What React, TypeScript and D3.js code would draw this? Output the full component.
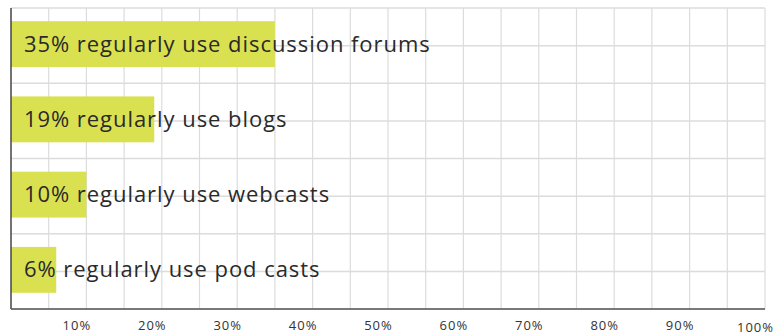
import React from "react";
import * as d3 from "d3";

const categories = ["forums", "blogs", "webcasts", "podcasts"];
const values = [35, 19, 10, 6];
const labels = [
  "35% regularly use discussion forums",
  "19% regularly use blogs",
  "10% regularly use webcasts",
  "6% regularly use pod casts",
];
const tickValues = [10, 20, 30, 40, 50, 60, 70, 80, 90, 100];
const tickLabels = ["10%", "20%", "30%", "40%", "50%", "60%", "70%", "80%", "90%", "100%"];

const W = 776;
const H = 334;
const left = 11;
const right = 765;
const top = 8;
const bottom = 309;

export default function App() {
  const x = d3.scaleLinear().domain([0, 100]).range([left, right]);
  const y = d3.scaleBand<string>().domain(categories).range([top, bottom]);
  const bw = y.bandwidth();
  const hGrid = d3.scaleLinear().domain([0, categories.length * 2]).range([top, bottom]);
  const hLines = d3.range(0, categories.length * 2 + 1);
  const vLines = d3.range(5, 101, 5);
  const font = "'Open Sans', 'Noto Sans', sans-serif";

  return (
    <div style={{ position: "absolute", left: 0, top: 0 }}>
      <svg width={W} height={H} style={{ display: "block", background: "#fff" }}>
        {vLines.map((v) => (
          <line key={"v" + v} x1={x(v)} x2={x(v)} y1={top} y2={bottom} stroke="#dcdcdc" strokeWidth={1.2} />
        ))}
        {hLines.map((k) => (
          <line key={"h" + k} x1={left} x2={right} y1={hGrid(k)} y2={hGrid(k)} stroke="#dcdcdc" strokeWidth={1.5} />
        ))}
        {categories.map((c, i) => (
          <rect
            key={"b" + c}
            x={x(0)}
            y={(y(c) as number) + bw * 0.175}
            width={x(values[i]) - x(0)}
            height={bw * 0.61}
            fill="#dae150"
          />
        ))}
        {categories.map((c, i) => (
          <text
            key={"t" + c}
            x={x(0) + 13}
            y={(y(c) as number) + bw * 0.175 + bw * 0.305 + 7.5}
            fontFamily={font}
            fontSize={22}
            letterSpacing={0.95}
            fill="#2a2a2a"
          >
            {labels[i]}
          </text>
        ))}
        <line x1={left} x2={left} y1={top} y2={bottom} stroke="#444" strokeWidth={1.5} />
        <line x1={left} x2={right} y1={bottom} y2={bottom} stroke="#555" strokeWidth={1.5} />
        {tickValues.map((v, i) => (
          <text
            key={"x" + v}
            x={x(v) - 9.5}
            y={i === tickValues.length - 1 ? 331.5 : 329.5}
            textAnchor="middle"
            fontFamily={font}
            fontSize={13}
            letterSpacing={1}
            fill="#333"
          >
            {tickLabels[i]}
          </text>
        ))}
      </svg>
    </div>
  );
}
